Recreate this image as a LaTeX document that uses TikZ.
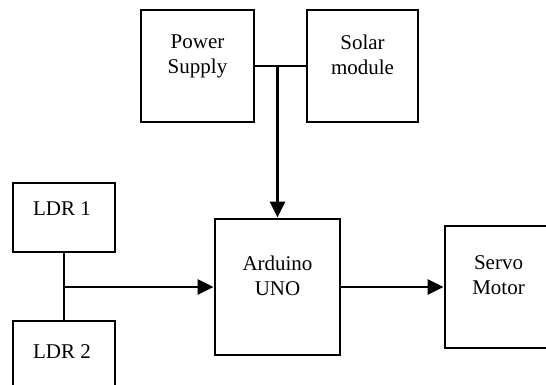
\documentclass[tikz,border=0pt]{standalone}
\usepackage{fontspec}
\setmainfont{Liberation Serif}
\usetikzlibrary{arrows.meta}
\begin{document}
\begin{tikzpicture}[x=1pt,y=-1pt,
  box/.style={draw=black,line width=2.8pt,rectangle,inner sep=0pt},
  txt/.style={anchor=north,align=center,inner sep=0pt,font=\fontsize{21}{25}\selectfont},
  conn/.style={draw=black,line width=2.4pt},
  arr/.style={conn,-{Triangle[length=16pt,width=15pt]}}]
\clip (0,0) rectangle (546,385);
\fill[white] (0,0) rectangle (546,385);
% boxes
\node[box,minimum width=113pt,minimum height=112pt] (ps) at (197.5,66) {};
\node[box,minimum width=111pt,minimum height=112pt] (sm) at (362.5,66) {};
\node[box,minimum width=102pt,minimum height=69pt] (l1) at (64,217.5) {};
\node[box,minimum width=102pt,minimum height=100pt] (l2) at (64,371) {};
\node[box,minimum width=125pt,minimum height=136pt] (ar) at (277.5,287) {};
\node[box,minimum width=107pt,minimum height=122pt] (sv) at (498.5,287) {};
% texts
\node[txt] (tps) at (197.5,34.5) {Power\\Supply};
\node[txt] (tsm) at (362.5,34.5) {Solar\\module};
\node[txt] (tl1) at (62,201.5) {LDR 1};
\node[txt] (tl2) at (62,344.5) {LDR 2};
\node[txt] (tar) at (277.5,255.5) {Arduino\\UNO};
\node[txt] (tsv) at (498.5,255.5) {Servo\\Motor};
% connectors
\coordinate (j) at (277.5,66);
\coordinate (k) at (64,287);
\draw[conn] (ps.east) -- (sm.west);
\draw[arr,line width=3pt] (j) -- (ar.north);
\draw[conn] (l1.south) -- (l2.north);
\draw[arr] (k) -- (ar.west);
\draw[arr] (ar.east) -- (sv.west);
\end{tikzpicture}
\end{document}
